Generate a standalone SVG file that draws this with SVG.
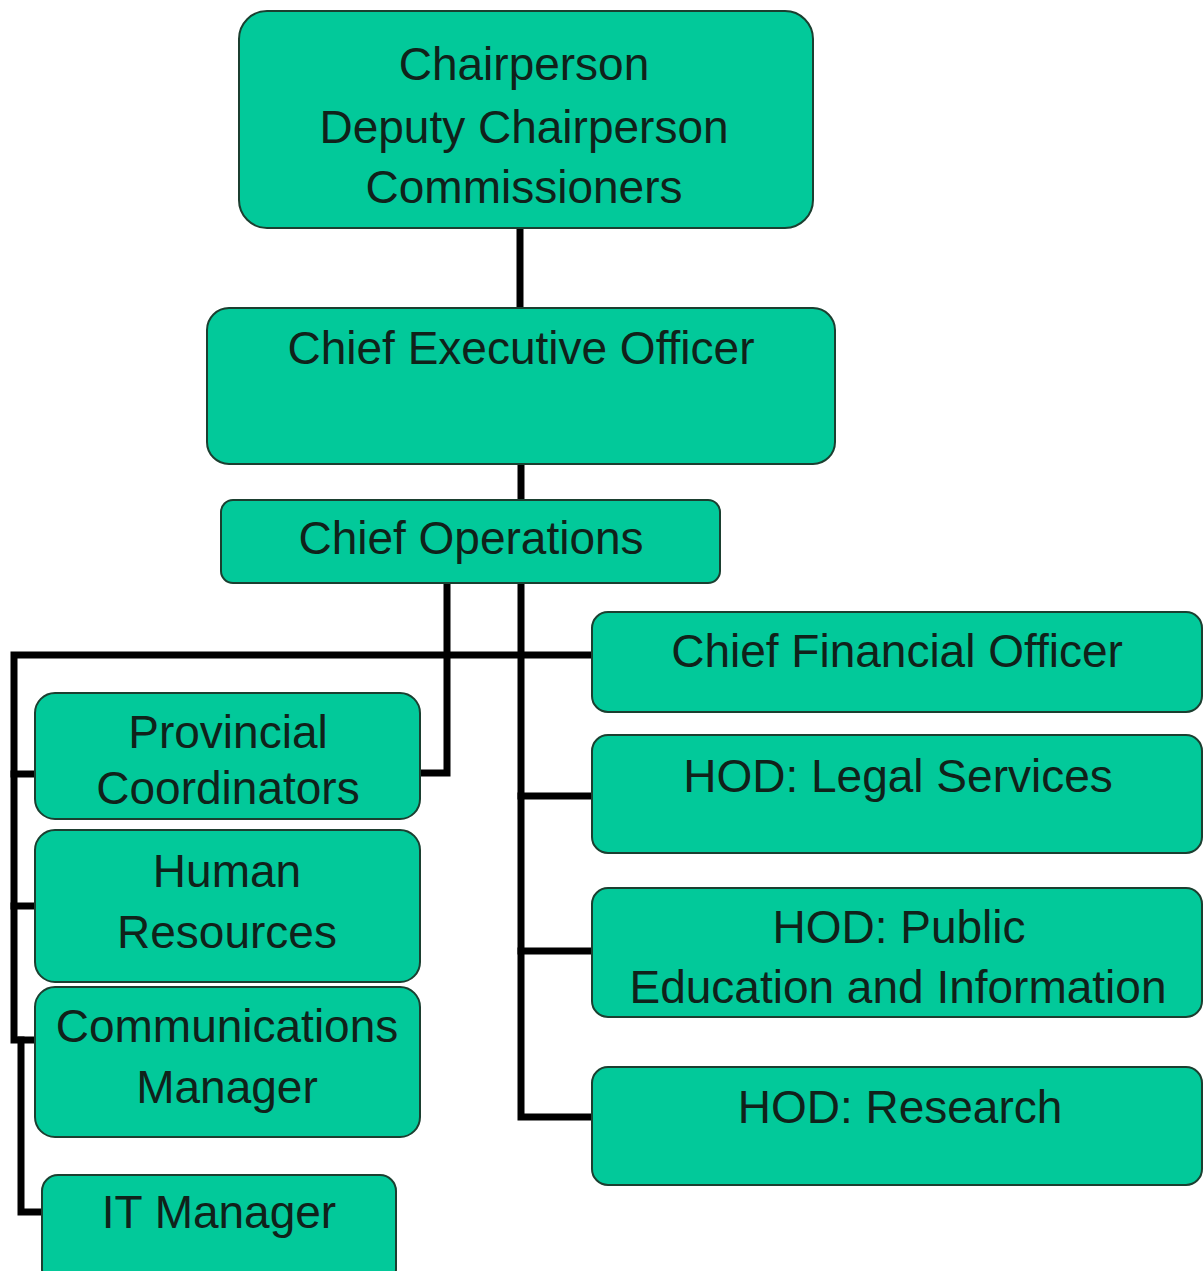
<svg xmlns="http://www.w3.org/2000/svg" width="1203" height="1271" viewBox="0 0 1203 1271">
<style>
.box{fill:#02C99A;stroke:#1B3F30;stroke-width:2}
.t{font-family:"Liberation Sans",Arial,sans-serif;font-size:46px;fill:#10221A;text-anchor:middle}
.c{fill:none;stroke:#000;stroke-width:7;stroke-linecap:square;stroke-linejoin:miter}
</style>
<rect width="1203" height="1271" fill="#fff"/>
<g id="connectors">
<path class="c" d="M520 228 V308"/>
<path class="c" d="M521 464 V500"/>
<path class="c" d="M521 583 V1117 H592"/>
<path class="c" d="M521 796 H592"/>
<path class="c" d="M521 951 H592"/>
<path class="c" d="M447 583 V773 H420"/>
<path class="c" d="M592 655 H14 V1040 H35"/>
<path class="c" d="M14 774 H35"/>
<path class="c" d="M14 906 H35"/>
<path class="c" d="M21 1040 V1212 H42"/>
</g>
<g id="chair">
<rect class="box" x="239" y="11" width="574" height="217" rx="28"/>
<text class="t" x="524" y="80">Chairperson</text>
<text class="t" x="524" y="143">Deputy Chairperson</text>
<text class="t" x="524" y="203">Commissioners</text>
</g>
<g id="ceo">
<rect class="box" x="207" y="308" width="628" height="156" rx="22"/>
<text class="t" x="521" y="364">Chief Executive Officer</text>
</g>
<g id="coo">
<rect class="box" x="221" y="500" width="499" height="83" rx="12"/>
<text class="t" x="471" y="554">Chief Operations</text>
</g>
<g id="cfo">
<rect class="box" x="592" y="612" width="610" height="100" rx="16"/>
<text class="t" x="897" y="667">Chief Financial Officer</text>
</g>
<g id="legal">
<rect class="box" x="592" y="735" width="610" height="118" rx="16"/>
<text class="t" x="898" y="792">HOD: Legal Services</text>
</g>
<g id="public">
<rect class="box" x="592" y="888" width="610" height="129" rx="16"/>
<text class="t" x="899" y="943">HOD: Public</text>
<text class="t" x="898" y="1003">Education and Information</text>
</g>
<g id="research">
<rect class="box" x="592" y="1067" width="610" height="118" rx="16"/>
<text class="t" x="900" y="1123">HOD: Research</text>
</g>
<g id="provincial">
<rect class="box" x="35" y="693" width="385" height="126" rx="20"/>
<text class="t" x="228" y="748">Provincial</text>
<text class="t" x="228" y="804">Coordinators</text>
</g>
<g id="hr">
<rect class="box" x="35" y="830" width="385" height="152" rx="20"/>
<text class="t" x="227" y="887">Human</text>
<text class="t" x="227" y="948">Resources</text>
</g>
<g id="comms">
<rect class="box" x="35" y="987" width="385" height="150" rx="20"/>
<text class="t" x="227" y="1042">Communications</text>
<text class="t" x="227" y="1103">Manager</text>
</g>
<g id="it">
<rect class="box" x="42" y="1175" width="354" height="110" rx="16"/>
<text class="t" x="219" y="1228">IT Manager</text>
</g>
</svg>
